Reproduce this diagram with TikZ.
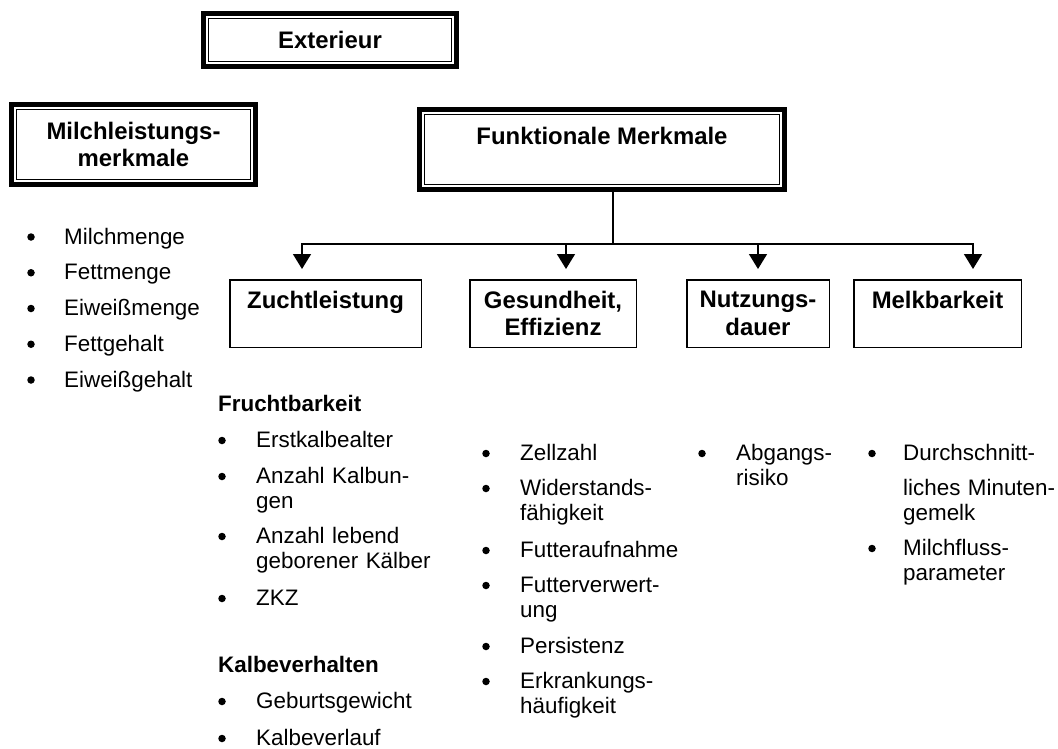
\documentclass[tikz,border=0pt]{standalone}
\usepackage{fontspec}
\setmainfont{Liberation Sans}
\usetikzlibrary{arrows.meta}

\tikzset{
    headbox/.style={draw, line width=5pt, align=center, inner sep=0pt,
        font=\fontsize{23.9}{27.3}\selectfont\bfseries},
    catbox/.style={draw, line width=1.5pt, align=center, inner sep=0pt,
        minimum height=67.5pt, font=\fontsize{23.9}{27.3}\selectfont\bfseries},
    itemtext/.style={anchor=base west, inner sep=0pt, text width=220pt, align=left,
        font=\fontsize{22.4}{25}\selectfont},
    bulletmark/.style={circle, fill, inner sep=0pt, minimum size=7.5pt, yshift=7pt},
    heading/.style={anchor=base west, inner sep=0pt, font=\fontsize{22.4}{25}\selectfont\bfseries},
    arr/.style={line width=1.5pt, -{Triangle[width=18pt,length=15pt]}, shorten >=10pt}
}

\begin{document}
\begin{tikzpicture}[x=1pt, y=-1pt]
    \useasboundingbox (0,0) rectangle (1058,749);

    \node[headbox, minimum width=253pt, minimum height=53pt] (ext) at (330,40) {Exterieur};
    \node[headbox, minimum width=244pt, minimum height=80pt] (milch) at (133.5,144.5) {Milchleistungs-\\merkmale};
    \node[headbox, minimum width=365pt, minimum height=80pt] (funk) at (602,149.5) {Funktionale Merkmale\\\mbox{}};
    \foreach \n in {ext,milch,funk}
        \draw[line width=1pt] ([shift={(7.5,7.5)}]\n.north west) rectangle ([shift={(-7.5,-7.5)}]\n.south east);

    \node[catbox, minimum width=191.5pt] (zucht) at (325.5,313.5) {Zuchtleistung\\\mbox{}};
    \node[catbox, minimum width=166.5pt] (ges) at (553,313.5) {Gesundheit,\\Effizienz};
    \node[catbox, minimum width=142.5pt] (nutz) at (758,313.5) {Nutzungs-\\dauer};
    \node[catbox, minimum width=167.5pt] (melk) at (937.5,313.5) {Melkbarkeit\\\mbox{}};

    \coordinate (fork) at (613,244);
    \draw[line width=1.5pt] (funk.south -| fork) -- (fork);
    \draw[arr] (fork) -| ([xshift=-23.5pt]zucht.north);
    \draw[arr] (fork) -| ([xshift=13pt]ges.north);
    \draw[arr] (fork) -| (nutz.north);
    \draw[arr] (fork) -| ([xshift=35.5pt]melk.north);

    \foreach \t [count=\i from 0] in {Milchmenge, Fettmenge, Eiweißmenge, Fettgehalt, Eiweißgehalt} {
        \node[bulletmark] (md\i) at (31,{244+35.75*\i}) {};
        \node[itemtext] (mt\i) at (64,{244+35.75*\i}) {\t};
    }

    \node[heading] (frucht) at (218,411) {Fruchtbarkeit};
    \node[heading] (kalbe) at (218,672.5) {Kalbeverhalten};
    \foreach \y/\t [count=\i] in {447.5/Erstkalbealter, 483.5/{Anzahl Kalbun-\\gen},
        543.5/{Anzahl lebend\\geborener Kälber}, 605.5/ZKZ, 708.5/Geburtsgewicht, 745.5/Kalbeverlauf} {
        \node[bulletmark] (zd\i) at (222,\y) {};
        \node[itemtext] (zt\i) at (256,\y) {\t};
    }

    \foreach \y/\t [count=\i] in {460.5/Zellzahl, 495.5/{Widerstands-\\fähigkeit}, 557.5/Futteraufnahme,
        592.5/{Futterverwert-\\ung}, 653.5/Persistenz, 688.5/{Erkrankungs-\\häufigkeit}} {
        \node[bulletmark] (gd\i) at (486,\y) {};
        \node[itemtext] (gt\i) at (520,\y) {\t};
    }

    \node[bulletmark] (nd1) at (702,460.5) {};
    \node[itemtext] (nt1) at (736,460.5) {Abgangs-\\risiko};

    \foreach \y/\t [count=\i] in {460.5/{Durchschnitt-\\[10pt]liches Minuten-\\gemelk}, 555.5/{Milchfluss-\\parameter}} {
        \node[bulletmark] (kd\i) at (872,\y) {};
        \node[itemtext] (kt\i) at (903,\y) {\t};
    }
\end{tikzpicture}
\end{document}
